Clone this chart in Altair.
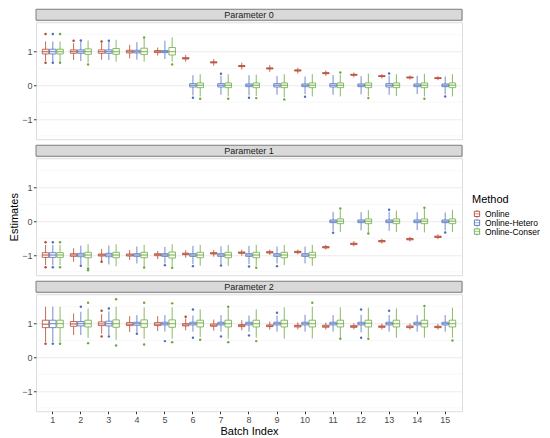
import altair as alt
import pandas as pd

methods = ["Online", "Online-Hetero", "Online-Conser"]
colors = ["#B5462E", "#4E6FC0", "#6BA83F"]
params = ["Parameter 0", "Parameter 1", "Parameter 2"]
batches = list(range(1, 16))
major_ticks = [-1, 0, 1]
minor_grid = [-1.5, -0.5, 0.5, 1.5]

# (lower whisker, q1, median, q3, upper whisker) per batch 1..15
p0_online = [(0.72, 0.93, 1.0, 1.07, 1.30), (0.75, 0.95, 1.0, 1.05, 1.25), (0.76, 0.95, 1.0, 1.05, 1.25),
             (0.80, 0.96, 1.0, 1.04, 1.20), (0.88, 0.97, 1.0, 1.03, 1.12), (0.70, 0.78, 0.80, 0.82, 0.90),
             (0.58, 0.665, 0.68, 0.695, 0.78), (0.47, 0.555, 0.57, 0.585, 0.67), (0.40, 0.485, 0.50, 0.515, 0.60),
             (0.35, 0.425, 0.44, 0.455, 0.52), (0.28, 0.345, 0.36, 0.375, 0.44), (0.24, 0.30, 0.31, 0.325, 0.38),
             (0.20, 0.26, 0.27, 0.285, 0.33), (0.17, 0.22, 0.23, 0.245, 0.29), (0.15, 0.20, 0.21, 0.225, 0.27)]
p0_hetero = [(0.70, 0.93, 1.0, 1.07, 1.30), (0.72, 0.95, 1.0, 1.05, 1.30), (0.75, 0.95, 1.0, 1.05, 1.28),
             (0.76, 0.96, 1.0, 1.04, 1.28), (0.78, 0.97, 1.0, 1.03, 1.32), (-0.30, -0.05, 0.0, 0.05, 0.30),
             (-0.28, -0.05, 0.0, 0.05, 0.28), (-0.30, -0.04, 0.0, 0.04, 0.30), (-0.28, -0.05, 0.0, 0.05, 0.28),
             (-0.26, -0.04, 0.0, 0.04, 0.26), (-0.28, -0.05, 0.0, 0.05, 0.30), (-0.27, -0.04, 0.0, 0.04, 0.27),
             (-0.28, -0.05, 0.0, 0.05, 0.28), (-0.26, -0.04, 0.0, 0.04, 0.28), (-0.27, -0.04, 0.0, 0.04, 0.26)]
p0_conser = [(0.70, 0.93, 1.0, 1.07, 1.30), (0.68, 0.92, 1.0, 1.08, 1.33), (0.70, 0.92, 1.0, 1.09, 1.35),
             (0.70, 0.91, 1.0, 1.10, 1.38), (0.70, 0.90, 1.0, 1.12, 1.42), (-0.33, -0.07, 0.0, 0.07, 0.33),
             (-0.33, -0.07, 0.0, 0.07, 0.33), (-0.32, -0.07, 0.0, 0.07, 0.32), (-0.35, -0.07, 0.0, 0.07, 0.33),
             (-0.33, -0.07, 0.0, 0.07, 0.33), (-0.33, -0.07, 0.0, 0.07, 0.32), (-0.33, -0.07, 0.0, 0.07, 0.35),
             (-0.32, -0.07, 0.0, 0.07, 0.33), (-0.33, -0.07, 0.0, 0.07, 0.34), (-0.33, -0.07, 0.0, 0.07, 0.33)]

p1_online = [(-1.30, -1.07, -1.0, -0.93, -0.70), (-1.20, -1.04, -1.0, -0.96, -0.80), (-1.18, -1.03, -1.0, -0.97, -0.82),
             (-1.15, -1.03, -1.0, -0.97, -0.85), (-1.12, -1.02, -0.99, -0.96, -0.88), (-1.08, -0.99, -0.97, -0.945, -0.86),
             (-1.05, -0.97, -0.95, -0.93, -0.85), (-1.02, -0.95, -0.93, -0.91, -0.84), (-1.00, -0.94, -0.92, -0.90, -0.84),
             (-0.98, -0.93, -0.91, -0.89, -0.84), (-0.84, -0.79, -0.77, -0.75, -0.70), (-0.74, -0.69, -0.67, -0.65, -0.59),
             (-0.66, -0.61, -0.59, -0.57, -0.52), (-0.60, -0.55, -0.53, -0.51, -0.46), (-0.53, -0.48, -0.46, -0.44, -0.39)]
p1_hetero = [(-1.30, -1.07, -1.0, -0.93, -0.70), (-1.28, -1.05, -1.0, -0.95, -0.72), (-1.28, -1.05, -1.0, -0.95, -0.72),
             (-1.25, -1.04, -1.0, -0.96, -0.75), (-1.25, -1.04, -1.0, -0.96, -0.76), (-1.27, -1.04, -1.0, -0.96, -0.73),
             (-1.27, -1.04, -1.0, -0.96, -0.74), (-1.27, -1.04, -1.0, -0.96, -0.73), (-1.25, -1.04, -1.0, -0.96, -0.75),
             (-1.25, -1.04, -1.0, -0.96, -0.75), (-0.28, -0.04, 0.0, 0.04, 0.28), (-0.27, -0.04, 0.0, 0.04, 0.27),
             (-0.28, -0.04, 0.0, 0.04, 0.28), (-0.26, -0.04, 0.0, 0.04, 0.27), (-0.27, -0.04, 0.0, 0.04, 0.26)]
p1_conser = [(-1.30, -1.07, -1.0, -0.93, -0.70), (-1.35, -1.08, -1.0, -0.92, -0.68), (-1.33, -1.08, -1.0, -0.92, -0.68),
             (-1.33, -1.08, -1.0, -0.92, -0.70), (-1.33, -1.09, -1.0, -0.91, -0.68), (-1.32, -1.08, -1.0, -0.92, -0.70),
             (-1.32, -1.08, -1.0, -0.92, -0.70), (-1.32, -1.08, -1.0, -0.92, -0.70), (-1.30, -1.08, -1.0, -0.92, -0.70),
             (-1.32, -1.08, -1.0, -0.92, -0.70), (-0.32, -0.07, 0.0, 0.07, 0.33), (-0.33, -0.07, 0.0, 0.07, 0.33),
             (-0.32, -0.07, 0.0, 0.07, 0.32), (-0.33, -0.07, 0.0, 0.07, 0.36), (-0.32, -0.07, 0.0, 0.07, 0.34)]

p2_online = [(0.45, 0.88, 0.98, 1.10, 1.50), (0.66, 0.92, 0.99, 1.06, 1.30), (0.70, 0.94, 0.99, 1.05, 1.28),
             (0.75, 0.94, 0.98, 1.03, 1.22), (0.78, 0.94, 0.98, 1.03, 1.22), (0.80, 0.93, 0.96, 1.00, 1.15),
             (0.79, 0.92, 0.95, 0.99, 1.12), (0.80, 0.91, 0.94, 0.97, 1.10), (0.82, 0.91, 0.93, 0.96, 1.06),
             (0.83, 0.90, 0.93, 0.95, 1.04), (0.82, 0.89, 0.92, 0.95, 1.03), (0.83, 0.89, 0.91, 0.94, 1.01),
             (0.82, 0.89, 0.91, 0.93, 1.00), (0.82, 0.88, 0.90, 0.93, 1.00), (0.82, 0.88, 0.90, 0.92, 0.99)]
p2_hetero = [(0.45, 0.88, 1.0, 1.10, 1.50), (0.66, 0.93, 1.0, 1.06, 1.35), (0.66, 0.93, 1.0, 1.07, 1.36),
             (0.74, 0.95, 1.0, 1.04, 1.25), (0.76, 0.96, 1.0, 1.04, 1.25), (0.76, 0.96, 1.0, 1.04, 1.24),
             (0.76, 0.96, 1.0, 1.04, 1.25), (0.76, 0.96, 1.0, 1.04, 1.24), (0.76, 0.96, 1.0, 1.04, 1.24),
             (0.76, 0.96, 1.0, 1.04, 1.26), (0.76, 0.96, 1.0, 1.04, 1.25), (0.74, 0.96, 1.0, 1.04, 1.26),
             (0.76, 0.96, 1.0, 1.04, 1.25), (0.76, 0.96, 1.0, 1.04, 1.25), (0.76, 0.96, 1.0, 1.04, 1.25)]
p2_conser = [(0.45, 0.88, 1.0, 1.10, 1.50), (0.58, 0.90, 1.0, 1.10, 1.45), (0.52, 0.89, 1.0, 1.11, 1.50),
             (0.55, 0.89, 1.0, 1.11, 1.48), (0.55, 0.89, 1.0, 1.11, 1.48), (0.60, 0.90, 1.02, 1.10, 1.42),
             (0.55, 0.90, 1.0, 1.10, 1.45), (0.58, 0.90, 1.0, 1.10, 1.42), (0.55, 0.90, 1.0, 1.10, 1.48),
             (0.56, 0.90, 1.0, 1.10, 1.50), (0.58, 0.90, 1.0, 1.10, 1.48), (0.60, 0.90, 1.01, 1.10, 1.47),
             (0.58, 0.90, 1.0, 1.10, 1.45), (0.58, 0.90, 1.0, 1.10, 1.47), (0.58, 0.90, 1.0, 1.10, 1.47)]

# outliers: (batch, method index, value)
p0_out = [(1, 0, 1.52), (1, 1, 1.52), (1, 2, 1.52), (1, 0, 0.67), (1, 1, 0.67), (1, 2, 0.67),
          (2, 0, 1.32), (2, 1, 1.33), (2, 2, 0.62), (3, 0, 1.30), (3, 1, 1.32), (4, 2, 1.42),
          (5, 2, 0.62), (6, 1, -0.37), (6, 2, -0.40), (7, 1, 0.34), (7, 2, -0.40), (8, 1, -0.37),
          (8, 2, -0.38), (9, 2, -0.42), (10, 1, -0.34), (11, 2, 0.38), (12, 2, -0.38), (13, 1, 0.35),
          (14, 2, -0.40), (15, 1, -0.33)]
p1_out = [(1, 0, -0.62), (1, 1, -0.62), (1, 2, -0.62), (1, 0, -1.36), (1, 1, -1.36), (1, 2, -1.36),
          (2, 2, -1.45), (2, 2, -1.40), (2, 1, -1.32), (3, 0, -1.20), (4, 2, -1.37), (5, 1, -1.30),
          (5, 2, -1.38), (6, 1, -1.33), (7, 1, -1.31), (8, 1, -1.34), (8, 2, -1.38), (9, 1, -1.33),
          (11, 1, -0.34), (11, 2, 0.38), (12, 2, -0.36), (13, 1, 0.34), (14, 2, 0.40), (15, 1, -0.33)]
p2_out = [(1, 0, 0.40), (1, 1, 0.40), (1, 2, 0.40), (2, 1, 1.50), (2, 2, 1.62), (2, 2, 0.42),
          (3, 0, 1.38), (3, 0, 0.62), (3, 1, 1.45), (3, 1, 0.62), (3, 2, 1.72), (3, 2, 0.35),
          (4, 1, 0.70), (4, 2, 1.62), (4, 2, 0.38), (5, 1, 0.48), (5, 2, 1.60), (5, 2, 0.45),
          (6, 0, 1.20), (6, 1, 1.42), (6, 1, 0.58), (6, 2, 0.52), (7, 1, 0.62), (7, 2, 1.50),
          (7, 2, 0.45), (8, 1, 0.65), (8, 2, 0.48), (9, 1, 1.32), (10, 2, 1.62), (11, 2, 0.55),
          (12, 1, 1.42), (12, 1, 0.58), (12, 2, 0.55), (13, 1, 1.38), (14, 2, 1.52), (15, 2, 0.50)]

stats = {
    "Parameter 0": [p0_online, p0_hetero, p0_conser],
    "Parameter 1": [p1_online, p1_hetero, p1_conser],
    "Parameter 2": [p2_online, p2_hetero, p2_conser],
}
outs = {"Parameter 0": p0_out, "Parameter 1": p1_out, "Parameter 2": p2_out}

W = 426
H = 117
STRIP = 11
YDOM = [-1.6, 1.87]

color_scale = alt.Scale(domain=methods, range=colors)
ysc = alt.Scale(domain=YDOM, nice=False, zero=False)


def panel(p, show_x, show_ytitle):
    rows = []
    for mi, series in enumerate(stats[p]):
        for b, (lo, q1, med, q3, hi) in zip(batches, series):
            rows.append({"batch": b, "method": methods[mi], "lo": lo, "q1": q1,
                         "med": med, "q3": q3, "hi": hi})
    df = pd.DataFrame(rows)
    odf = pd.DataFrame([{"batch": b, "method": methods[m], "v": v} for b, m, v in outs[p]])

    if show_x:
        xaxis = alt.Axis(title="Batch Index", labelAngle=0, domain=False, gridColor="#EBEBEB",
                         labelColor="#4D4D4D", labelFontSize=9, tickColor="#333333", tickSize=2.5,
                         titleFontSize=11, titleFontWeight="normal", titleColor="#000000",
                         labelPadding=1.5, titlePadding=1, minExtent=0)
    else:
        xaxis = alt.Axis(title=None, labels=False, ticks=False, domain=False, gridColor="#EBEBEB",
                         labelPadding=0, minExtent=0, maxExtent=0)
    x = alt.X("batch:O", scale=alt.Scale(paddingInner=0.25, paddingOuter=0.225), axis=xaxis)
    xo = alt.XOffset("method:N", scale=alt.Scale(domain=methods, paddingInner=0.1, paddingOuter=0.0))
    yaxis = alt.Axis(title="Estimates" if show_ytitle else None, values=major_ticks, format="d",
                     labelOverlap=False, domain=False, gridColor="#EBEBEB", labelColor="#4D4D4D",
                     labelFontSize=9, tickColor="#333333", tickSize=2.5, titleFontSize=11,
                     titleFontWeight="normal", titleColor="#000000", labelPadding=1.5, titlePadding=2,
                     minExtent=0)

    minor = alt.Chart(pd.DataFrame({"g": minor_grid})).mark_rule(
        color="#F4F4F4", strokeWidth=0.6).encode(y=alt.Y("g:Q", scale=ysc, axis=yaxis))
    base = alt.Chart(df)
    whisk = base.mark_rule(strokeWidth=0.8).encode(
        x=x, xOffset=xo, y=alt.Y("lo:Q", scale=ysc), y2="hi:Q",
        color=alt.Color("method:N", scale=color_scale, legend=None))
    box = base.mark_bar(fill="white", strokeWidth=0.8).encode(
        x=x, xOffset=xo, y="q1:Q", y2="q3:Q",
        stroke=alt.Stroke("method:N", scale=color_scale, legend=None))
    med = base.mark_tick(thickness=1.4, size=6.3).encode(
        x=x, xOffset=xo, y="med:Q",
        color=alt.Color("method:N", scale=color_scale, legend=None))
    pts = alt.Chart(odf).mark_circle(size=6, opacity=1).encode(
        x=x, xOffset=xo, y=alt.Y("v:Q"),
        color=alt.Color("method:N", scale=color_scale, legend=None))
    body = alt.layer(minor, whisk, box, med, pts).properties(width=W, height=H)

    sdf = pd.DataFrame({"label": [p]})
    sbase = alt.Chart(sdf)
    srect = sbase.mark_rect(fill="#D9D9D9", stroke="#7F7F7F", strokeWidth=1).encode(
        x=alt.value(0), x2=alt.value(W), y=alt.value(0), y2=alt.value(STRIP))
    stext = sbase.mark_text(fontSize=9, color="#1A1A1A", baseline="middle", align="center").encode(
        x=alt.value(W / 2), y=alt.value(STRIP / 2 + 0.5), text="label:N")
    strip = alt.layer(srect, stext).properties(width=W, height=STRIP)
    return alt.vconcat(strip, body, spacing=0)


# custom legend (boxplot keys)
ldf = pd.DataFrame({"method": methods})
ly = alt.Y("method:N", axis=None, sort=methods, scale=alt.Scale(domain=methods, padding=0.5))
lc = alt.Color("method:N", scale=color_scale, legend=None)
lwhisk = alt.Chart(ldf).mark_tick(orient="vertical", size=8, thickness=0.8).encode(
    x=alt.value(5), y=ly, color=lc)
lbox = alt.Chart(ldf).mark_square(size=28, fill="white", strokeWidth=0.9, fillOpacity=1).encode(
    x=alt.value(5), y=ly, stroke=alt.Stroke("method:N", scale=color_scale, legend=None))
lmed = alt.Chart(ldf).mark_tick(orient="horizontal", size=5.3, thickness=0.8).encode(
    x=alt.value(5), y=ly, color=lc)
ltext = alt.Chart(ldf).mark_text(align="left", baseline="middle", fontSize=8.5, color="#000000").encode(
    x=alt.value(13), y=ly, text="method:N")
legend = alt.layer(lwhisk, lbox, lmed, ltext).properties(
    width=66, height=31,
    title=alt.TitleParams("Method", anchor="start", fontSize=11, fontWeight="normal",
                          color="#000000", offset=2, dx=0),
    view=alt.ViewConfig(stroke="transparent"))

main = alt.vconcat(
    panel(params[0], False, False),
    panel(params[1], False, True),
    panel(params[2], True, False),
    spacing=4,
)

chart = alt.hconcat(main, legend, spacing=8, center=True).properties(
    padding={"left": 0, "top": 0, "right": 0, "bottom": 0}
).configure_view(
    stroke="#7F7F7F", strokeWidth=1
).configure(
    font="Liberation Sans"
)

chart.save("out.html", embed_options={"renderer": "svg", "actions": False})
